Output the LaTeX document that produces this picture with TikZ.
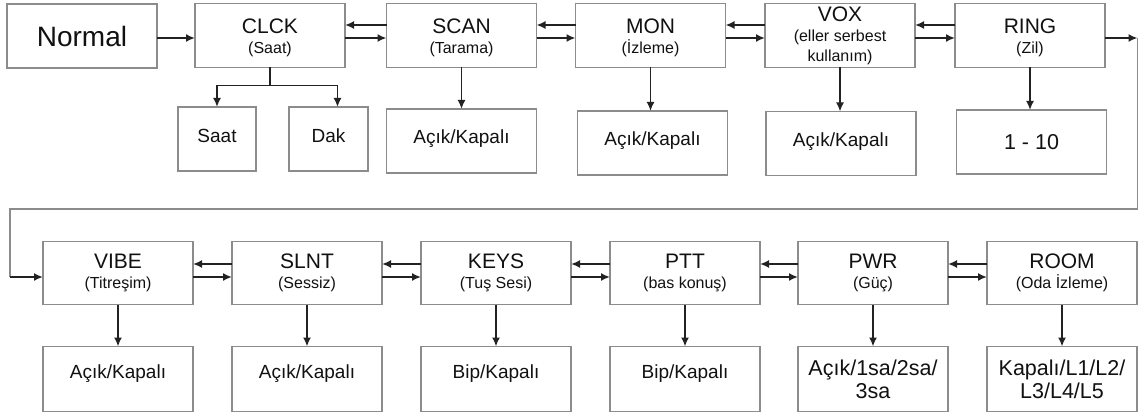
\documentclass[tikz,border=0pt]{standalone}
\usepackage{fontspec}
\setmainfont{Liberation Sans}
\usetikzlibrary{arrows.meta,calc}
\definecolor{boxgray}{HTML}{8C8C8C}
\definecolor{ink}{HTML}{222222}
\definecolor{txt}{HTML}{111111}
\newcommand\tstrut{\rule{0pt}{19.4pt}}
\begin{document}
\begin{tikzpicture}[x=1pt,y=-1pt,
  box/.style={draw=boxgray, line width=1.1pt, fill=white, text=txt, align=center,
    inner sep=0pt, outer sep=0pt, minimum width=150pt, minimum height=64pt},
  mainbox/.style={box, font=\fontsize{16}{20}\selectfont},
  subbox/.style={box, font=\fontsize{19}{22}\selectfont},
  topsub/.style={subbox, text height=14pt, text depth=8.4pt},
  botsub/.style={subbox, minimum height=65pt, text height=14pt, text depth=14.4pt},
  bigsub/.style={box, minimum height=65pt, font=\fontsize{21.5}{23}\selectfont},
  arr/.style={draw=ink, line width=1.7pt, -{Latex[length=9pt,width=8pt]}},
  inkline/.style={draw=ink, line width=1.7pt},
  link/.style={draw=boxgray, line width=1.1pt}
]
\useasboundingbox (0,0) rectangle (1139,414);
% top row
\node[box, font=\fontsize{28}{30}\selectfont] (normal) at (82,36) {Normal};
\node[mainbox] (clck) at (270,35.5) {{\fontsize{21}{20}\selectfont\tstrut CLCK}\\(Saat)};
\node[mainbox] (scan) at (461.5,35.5) {{\fontsize{21}{20}\selectfont\tstrut SCAN}\\(Tarama)};
\node[mainbox] (mon) at (650.5,35.5) {{\fontsize{21}{20}\selectfont\tstrut MON}\\(İzleme)};
\node[mainbox] (vox) at (840,35.5) {{\fontsize{21}{20}\selectfont VOX}\\(eller serbest\\kullanım)};
\node[mainbox] (ring) at (1030,35.5) {{\fontsize{21}{20}\selectfont\tstrut RING}\\(Zil)};
% top sub boxes
\node[subbox, minimum width=78pt, text height=14pt, text depth=6.4pt] (saat) at (217,139) {Saat};
\node[subbox, minimum width=79pt, text height=14pt, text depth=6.4pt] (dak) at (328.5,139) {Dak};
\node[topsub] (scansub) at (461.5,141) {Açık/Kapalı};
\node[topsub] (monsub) at (652.5,143) {Açık/Kapalı};
\node[topsub] (voxsub) at (841,143.5) {Açık/Kapalı};
\node[box, font=\fontsize{21.5}{23}\selectfont] (ringsub) at (1031.5,142) {1 - 10};
% bottom row
\node[mainbox, minimum height=63pt] (vibe) at (118,273) {{\fontsize{21}{20}\selectfont VIBE}\\(Titreşim)};
\node[mainbox, minimum height=63pt] (slnt) at (307,273) {{\fontsize{21}{20}\selectfont SLNT}\\(Sessiz)};
\node[mainbox, minimum height=63pt] (keys) at (496,273) {{\fontsize{21}{20}\selectfont KEYS}\\(Tuş Sesi)};
\node[mainbox, minimum height=63pt] (ptt) at (685,273) {{\fontsize{21}{20}\selectfont PTT}\\(bas konuş)};
\node[mainbox, minimum height=63pt] (pwr) at (873,273) {{\fontsize{21}{20}\selectfont PWR}\\(Güç)};
\node[mainbox, minimum height=63pt] (room) at (1062,273) {{\fontsize{21}{20}\selectfont ROOM}\\(Oda İzleme)};
% bottom sub boxes
\node[botsub] (vibesub) at (118,379) {Açık/Kapalı};
\node[botsub] (slntsub) at (307,379) {Açık/Kapalı};
\node[botsub] (keyssub) at (496,379) {Bip/Kapalı};
\node[botsub] (pttsub) at (685,379) {Bip/Kapalı};
\node[bigsub] (pwrsub) at (873,379) {Açık/1sa/2sa/\\3sa};
\node[bigsub] (roomsub) at (1062,379) {Kapalı/L1/L2/\\L3/L4/L5};
% top row connectors
\draw[arr] ([yshift=-2pt]normal.east) -- ([yshift=-2pt]normal.east -| clck.west);
\foreach \a/\b in {clck/scan, scan/mon, mon/vox, vox/ring} {
  \draw[arr] ([yshift=10.5pt]\b.west) -- ([yshift=10.5pt]\a.east);
  \draw[arr] ([yshift=-2.5pt]\a.east) -- ([yshift=-2.5pt]\b.west);
}
% clck branch
\coordinate (cb) at ($(clck.south)+(0,18)$);
\draw[inkline] (clck.south) -- (cb);
\draw[arr] (cb) -| (saat.north);
\draw[arr] (cb) -| ([xshift=9pt]dak.north);
\foreach \p in {scan, mon, vox, ring} {
  \draw[arr] (\p.south) -- (\p.south |- \p sub.north);
}
% wrap-around connector
\coordinate (tr) at (1137.5,38);
\coordinate (c2) at (10,209);
\coordinate (c3) at (10,277);
\draw[arr] ([yshift=-2.5pt]ring.east) -- (tr);
\draw[link] (tr) |- (c2) -- (c3);
\draw[arr] (c3) -- (c3 -| vibe.west);
% bottom row connectors
\foreach \a/\b in {vibe/slnt, slnt/keys, keys/ptt, ptt/pwr, pwr/room} {
  \draw[arr] ([yshift=9pt]\b.west) -- ([yshift=9pt]\a.east);
  \draw[arr] ([yshift=-4pt]\a.east) -- ([yshift=-4pt]\b.west);
}
\foreach \p in {vibe, slnt, keys, ptt, pwr, room} {
  \draw[arr] (\p.south) -- (\p.south |- \p sub.north);
}
\end{tikzpicture}
\end{document}
